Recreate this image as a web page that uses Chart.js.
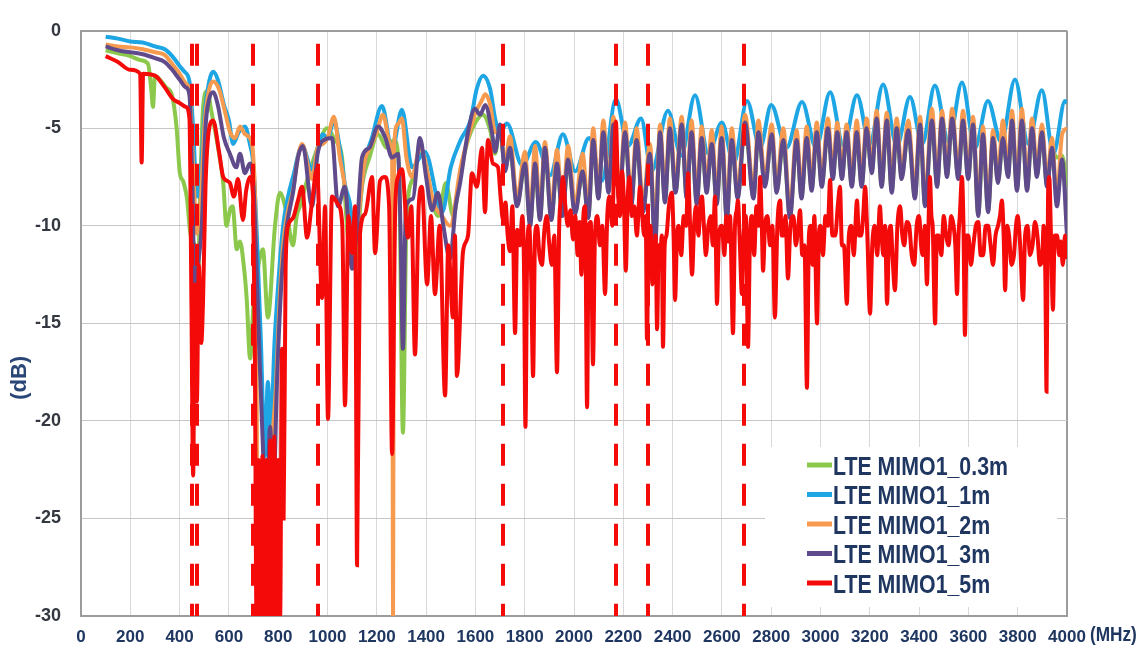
<!DOCTYPE html>
<html>
<head>
<meta charset="utf-8">
<script src="https://cdn.jsdelivr.net/npm/chart.js@4.4.1/dist/chart.umd.min.js"></script>
<style>
  html, body { margin: 0; padding: 0; background: #fff; }
</style>
</head>
<body>
<canvas id="chart" width="1143" height="650"></canvas>
<script>

var seriesNames = ["LTE MIMO1_0.3m", "LTE MIMO1_1m", "LTE MIMO1_2m", "LTE MIMO1_3m", "LTE MIMO1_5m"];
var seriesColors = ["#8CC84B", "#1EA6E4", "#F59A4E", "#5F4A8B", "#F50A0A"];

// band edges (MHz), red dashed markers
var bandEdges = [450, 470, 698, 960, 1710, 2170, 2300, 2690];

var xTicks = { min: 0, max: 4000, step: 200 };
var yTicks = { min: -30, max: 0, step: 5 };

// 0.3 m, below 1700 MHz
var greenLowMHz = [100, 150, 200, 240, 272, 285, 292, 300, 320, 345, 369, 388, 401, 414, 430, 445, 462, 472, 482, 495,
  511, 530, 560, 577, 590, 604, 615, 632, 645, 660, 672, 686, 700, 720, 738, 758, 787, 807, 835, 860,
  875, 888, 921, 957, 998, 1030, 1059, 1083, 1112, 1140, 1170, 1205, 1240, 1270, 1290, 1306, 1320, 1345, 1380, 1420,
  1450, 1480, 1510, 1540, 1570, 1600, 1630, 1660, 1680];
var greenLowDb = [-1.0, -1.15, -1.3, -1.5, -1.7, -3.0, -3.9, -2.3, -2.5, -2.9, -3.3, -5.0, -7.3, -7.7, -8.6, -10.5, -11.2, -14.5, -9.0, -4.0,
  -3.1, -4.2, -6.3, -7.8, -10.0, -9.2, -9.0, -11.2, -10.8, -12.0, -13.7, -16.8, -14.0, -12.0, -11.2, -14.7, -10.0, -8.3, -9.4, -11.0,
  -9.5, -9.0, -7.5, -6.1, -5.0, -5.6, -6.5, -10.6, -11.9, -8.0, -6.5, -5.3, -6.0, -5.6, -7.0, -20.6, -10.0, -7.6, -6.3, -8.6,
  -9.5, -7.8, -9.5, -7.2, -5.6, -4.7, -4.3, -5.1, -6.3];

// 1 m
var blueMHz = [100, 150, 200, 250, 300, 340, 370, 400, 420, 440, 455, 470, 482, 500, 520, 536, 555, 580, 600, 617,
  640, 665, 685, 700, 715, 730, 746, 758, 770, 785, 800, 820, 840, 860, 897, 937, 960, 982, 1000, 1026,
  1050, 1071, 1090, 1112, 1130, 1150, 1180, 1221, 1262, 1302, 1343, 1395, 1465, 1500, 1540, 1580, 1605, 1631, 1660, 1680,
  1700, 1728, 1790, 1845, 1903, 1955, 2005, 2061, 2113, 2170, 2219, 2272, 2315, 2381, 2435, 2491, 2545, 2600, 2648, 2702,
  2755, 2800, 2862, 2925, 2982, 3039, 3093, 3148, 3200, 3254, 3310, 3363, 3413, 3464, 3520, 3574, 3627, 3679, 3733, 3789,
  3843, 3898, 3945, 3992, 4000];
var blueDb = [-0.3, -0.4, -0.55, -0.6, -0.8, -0.95, -1.3, -1.8, -2.1, -2.6, -5.0, -8.5, -8.0, -4.5, -2.6, -2.1, -2.5, -3.8, -4.6, -5.8,
  -5.2, -4.9, -5.8, -7.0, -11.0, -16.0, -21.8, -18.0, -20.5, -16.0, -13.0, -10.0, -8.5, -7.5, -5.9, -7.1, -6.0, -5.3, -5.5, -4.65,
  -6.0, -7.9, -8.8, -10.8, -9.0, -6.8, -5.5, -3.85, -6.1, -4.05, -7.0, -6.2, -9.3, -7.0, -5.6, -4.6, -3.0, -2.3, -3.0, -4.5,
  -5.2, -4.75, -6.9, -5.7, -7.4, -5.3, -7.2, -5.5, -7.7, -3.5, -5.9, -4.5, -7.2, -4.1, -6.4, -3.3, -6.3, -4.7, -6.8, -3.6,
  -6.0, -3.8, -6.0, -3.65, -6.0, -3.15, -5.9, -3.3, -5.8, -2.75, -5.9, -3.4, -5.8, -2.8, -5.7, -2.65, -6.0, -3.6, -5.7, -2.5,
  -5.8, -3.05, -6.3, -3.6, -3.7];

// 2 m, below 1700 MHz
var orangeLowMHz = [100, 150, 200, 250, 300, 340, 370, 400, 425, 440, 455, 470, 485, 500, 520, 536, 560, 585, 605, 625,
  645, 665, 685, 700, 710, 718, 735, 745, 760, 775, 791, 805, 820, 840, 860, 880, 897, 937, 960, 982,
  1000, 1026, 1050, 1071, 1100, 1130, 1150, 1180, 1200, 1225, 1255, 1262, 1266, 1270, 1285, 1302, 1320, 1343, 1375, 1395,
  1430, 1465, 1497, 1540, 1570, 1600, 1625, 1640, 1660, 1680];
var orangeLowDb = [-0.7, -0.8, -0.85, -0.95, -1.1, -1.25, -1.7, -2.2, -2.7, -3.1, -7.0, -10.4, -9.0, -5.0, -3.0, -2.6, -3.0, -4.2, -5.2, -5.5,
  -4.9, -5.3, -5.5, -6.7, -12.0, -30, -30, -25.0, -23.0, -21.0, -18.2, -14.0, -11.0, -9.2, -8.2, -6.5, -5.8, -7.6, -6.0, -5.8,
  -5.5, -4.4, -6.5, -8.0, -11.2, -9.0, -6.8, -5.8, -5.2, -4.3, -5.8, -6.0, -30, -6.0, -4.8, -4.5, -6.5, -7.5, -6.0, -6.6,
  -8.8, -9.5, -10.0, -7.0, -5.5, -4.2, -3.6, -3.25, -3.8, -5.2];

// 3 m, below 1700 MHz
var purpleLowMHz = [100, 150, 200, 250, 300, 340, 370, 400, 425, 440, 452, 462, 475, 490, 505, 520, 536, 555, 580, 604,
  630, 645, 665, 685, 700, 712, 725, 740, 752, 767, 780, 795, 815, 835, 860, 880, 900, 937, 960, 985,
  1018, 1043, 1070, 1100, 1120, 1140, 1170, 1205, 1235, 1262, 1286, 1296, 1306, 1318, 1347, 1375, 1400, 1424, 1448, 1470,
  1497, 1520, 1538, 1570, 1598, 1619, 1640, 1667, 1680];
var purpleLowDb = [-0.8, -1.0, -1.1, -1.2, -1.4, -1.6, -2.0, -2.5, -2.9, -3.3, -8.0, -14.0, -12.0, -10.0, -5.0, -3.5, -3.15, -3.8, -5.5, -6.3,
  -7.0, -6.3, -7.3, -6.8, -8.0, -12.0, -17.0, -22.0, -25.0, -20.3, -24.0, -18.0, -12.5, -10.0, -8.3, -6.5, -5.9, -9.0, -6.3, -5.6,
  -5.5, -9.0, -8.0, -12.2, -10.0, -6.5, -6.0, -4.9, -5.5, -6.5, -6.3, -10.0, -16.3, -9.0, -8.6, -5.5, -7.5, -9.2, -8.3, -10.0,
  -11.7, -9.0, -7.8, -5.2, -4.0, -4.3, -3.8, -5.2, -6.2];

// ripple region 1700-4000 MHz, shared frequency grid for 0.3 m, 2 m, 3 m
var combMHz = [1700, 1720, 1740, 1769, 1801, 1822, 1842, 1862, 1882, 1908, 1931, 1953, 1976, 2004, 2035, 2058, 2078, 2099, 2119, 2140,
  2160, 2184, 2207, 2232, 2254, 2280, 2308, 2329, 2349, 2369, 2389, 2412, 2437, 2457, 2477, 2498, 2518, 2538, 2559, 2579,
  2599, 2620, 2640, 2664, 2694, 2728, 2748, 2775, 2802, 2822, 2849, 2876, 2903, 2923, 2944, 2964, 2985, 3005, 3030, 3050,
  3068, 3087, 3106, 3127, 3147, 3167, 3187, 3208, 3228, 3248, 3269, 3289, 3309, 3329, 3356, 3383, 3404, 3424, 3452, 3473,
  3493, 3513, 3534, 3559, 3578, 3599, 3619, 3640, 3659, 3680, 3700, 3720, 3740, 3761, 3777, 3797, 3817, 3838, 3858, 3878,
  3898, 3919, 3939, 3959, 3980, 4000];
var purpleCombDb = [-4.8, -7.2, -6.0, -9.0, -6.8, -10.0, -6.8, -9.7, -6.0, -9.7, -6.8, -9.5, -6.6, -9.4, -7.2, -9.6, -5.6, -8.6, -5.2, -8.3,
  -4.8, -8.7, -5.2, -9.0, -5.6, -9.3, -6.3, -11.0, -5.2, -8.8, -5.0, -8.3, -4.8, -8.6, -5.2, -8.9, -5.5, -8.3, -5.8, -8.9,
  -5.5, -9.7, -5.6, -8.6, -4.7, -8.6, -5.2, -8.0, -5.3, -8.3, -5.6, -9.6, -5.6, -8.6, -5.5, -8.2, -5.2, -8.0, -5.0, -7.6,
  -5.2, -7.6, -5.2, -8.0, -5.2, -8.0, -5.0, -7.3, -4.5, -8.0, -4.6, -8.3, -5.0, -7.6, -5.1, -8.6, -4.8, -9.0, -4.6, -8.0,
  -4.5, -7.5, -4.5, -7.6, -4.6, -7.6, -4.8, -9.5, -5.3, -9.3, -5.5, -7.8, -5.5, -7.5, -4.6, -8.2, -4.6, -8.2, -5.0, -7.5,
  -5.2, -8.0, -6.0, -9.0, -6.6, -10.5];
var orangeCombDb = [-5.2, -6.8, -5.4, -8.6, -6.2, -9.5, -5.9, -9.3, -5.7, -9.2, -6.1, -9.1, -5.9, -9.0, -6.3, -9.2, -5.0, -8.2, -4.6, -7.9,
  -4.4, -8.3, -4.7, -8.6, -5.0, -8.9, -5.8, -10.5, -4.8, -8.4, -4.5, -7.9, -4.4, -8.2, -4.6, -8.5, -4.9, -7.9, -5.1, -8.5,
  -4.9, -9.3, -5.0, -8.2, -4.3, -8.2, -4.6, -7.6, -4.8, -7.9, -5.0, -9.2, -5.1, -8.2, -4.9, -7.8, -4.7, -7.6, -4.5, -7.2,
  -4.7, -7.2, -4.8, -7.6, -4.6, -7.6, -4.5, -6.9, -4.1, -7.6, -4.2, -7.9, -4.5, -7.2, -4.6, -8.2, -4.4, -8.6, -4.0, -7.6,
  -4.1, -7.1, -4.0, -7.2, -4.1, -7.2, -4.4, -9.1, -4.9, -8.9, -5.1, -7.4, -4.6, -7.1, -4.1, -7.8, -4.0, -7.8, -4.5, -7.1,
  -4.8, -7.6, -5.5, -8.6, -5.3, -5.0];
var greenCombDb = [-4.9, -7.1, -6.1, -8.9, -6.9, -9.9, -6.9, -9.6, -6.1, -9.6, -6.9, -9.4, -6.7, -9.3, -7.3, -9.5, -5.7, -8.5, -5.3, -8.2,
  -4.9, -8.6, -5.3, -8.9, -5.7, -9.2, -6.4, -10.8, -5.3, -8.7, -5.1, -8.2, -4.9, -8.5, -5.3, -8.8, -5.6, -8.2, -5.9, -8.8,
  -5.6, -9.6, -5.7, -8.5, -4.8, -8.5, -5.3, -7.9, -5.4, -8.2, -5.7, -9.5, -5.7, -8.5, -5.6, -8.1, -5.3, -7.9, -5.1, -7.5,
  -5.3, -7.5, -5.3, -7.9, -5.3, -7.9, -5.1, -7.2, -4.6, -7.9, -4.7, -8.2, -5.1, -7.5, -5.2, -8.5, -4.9, -8.9, -4.7, -7.9,
  -4.6, -7.4, -4.6, -7.5, -4.7, -7.5, -4.9, -9.4, -5.4, -9.2, -5.6, -7.7, -5.6, -7.4, -4.7, -8.1, -4.7, -8.1, -5.1, -7.4,
  -5.3, -7.9, -6.1, -6.5, -6.4, -8.0];

// 5 m
var redMHz = [100, 150, 200, 240, 246, 252, 300, 340, 374, 400, 425, 440, 448, 455, 462, 470, 478, 488, 495, 505,
  520, 536, 560, 577, 604, 620, 637, 657, 670, 686, 698, 705, 712, 720, 728, 736, 744, 752, 760, 768,
  776, 784, 792, 800, 808, 815, 822, 830, 840, 860, 880, 897, 917, 937, 957, 978, 990, 1002, 1018, 1043,
  1060, 1071, 1085, 1100, 1112, 1120, 1132, 1152, 1181, 1193, 1213, 1233, 1250, 1262, 1275, 1286, 1302, 1327, 1340, 1355,
  1370, 1383, 1404, 1420, 1436, 1455, 1477, 1490, 1509, 1517, 1525, 1550, 1570, 1586, 1606, 1627, 1639, 1651, 1671, 1692,
  1702, 1712, 1722, 1731, 1740, 1750, 1761, 1770, 1781, 1790, 1797, 1803, 1810, 1818, 1826, 1834, 1842, 1850, 1860, 1870,
  1880, 1890, 1900, 1910, 1920, 1931, 1940, 1948, 1955, 1965, 1975, 1986, 1996, 2005, 2015, 2023, 2030, 2038, 2045, 2053,
  2060, 2068, 2077, 2085, 2095, 2105, 2115, 2126, 2135, 2145, 2155, 2162, 2170, 2178, 2186, 2195, 2203, 2210, 2218, 2225,
  2235, 2245, 2255, 2268, 2277, 2285, 2291, 2296, 2303, 2310, 2318, 2325, 2331, 2337, 2344, 2350, 2356, 2361, 2368, 2375,
  2385, 2397, 2404, 2410, 2418, 2425, 2435, 2445, 2455, 2463, 2471, 2479, 2487, 2495, 2505, 2512, 2519, 2527, 2535, 2545,
  2555, 2563, 2572, 2580, 2588, 2600, 2610, 2618, 2625, 2633, 2645, 2653, 2660, 2665, 2673, 2681, 2688, 2697, 2706, 2714,
  2722, 2731, 2740, 2748, 2755, 2761, 2767, 2775, 2785, 2795, 2805, 2815, 2825, 2836, 2843, 2850, 2858, 2868, 2878, 2890,
  2900, 2910, 2917, 2926, 2935, 2945, 2953, 2960, 2968, 2975, 2986, 2993, 3000, 3010, 3020, 3030, 3039, 3048, 3060, 3070,
  3079, 3087, 3095, 3107, 3115, 3125, 3135, 3148, 3156, 3165, 3173, 3181, 3190, 3201, 3210, 3220, 3230, 3241, 3248, 3255,
  3262, 3270, 3278, 3285, 3292, 3302, 3312, 3323, 3332, 3340, 3350, 3360, 3370, 3380, 3390, 3400, 3408, 3415, 3423, 3432,
  3438, 3444, 3450, 3455, 3465, 3472, 3480, 3490, 3500, 3510, 3520, 3530, 3540, 3547, 3554, 3560, 3565, 3574, 3580, 3586,
  3593, 3600, 3610, 3620, 3630, 3640, 3650, 3660, 3670, 3680, 3690, 3700, 3710, 3720, 3728, 3736, 3743, 3749, 3757, 3765,
  3775, 3785, 3793, 3800, 3810, 3822, 3830, 3840, 3850, 3860, 3870, 3880, 3890, 3900, 3905, 3912, 3917, 3923, 3928, 3935,
  3943, 3950, 3960, 3968, 3975, 3983, 3992, 4000];
var redDb = [-1.3, -1.6, -2.0, -2.2, -6.75, -2.2, -2.3, -2.9, -3.5, -3.7, -3.9, -4.5, -14.0, -22.8, -13.0, -19.0, -12.0, -16.0, -13.9, -8.0,
  -5.0, -4.6, -6.2, -7.5, -7.8, -8.5, -7.6, -9.7, -8.2, -7.5, -8.5, -16.0, -30, -22.0, -30, -21.8, -30, -22.0, -30, -21.0,
  -30, -20.8, -30, -22.0, -30, -16.3, -25.0, -12.2, -10.0, -9.6, -8.7, -8.0, -10.6, -8.8, -7.1, -13.7, -9.0, -19.9, -8.5, -8.9,
  -10.0, -19.2, -9.5, -11.4, -9.0, -27.4, -10.4, -9.4, -7.5, -11.4, -7.7, -7.5, -9.0, -21.7, -9.0, -7.5, -7.1, -10.6, -9.0, -16.6,
  -9.0, -8.0, -13.0, -9.5, -13.5, -10.0, -18.7, -11.0, -14.7, -10.5, -17.7, -11.3, -10.5, -7.3, -8.0, -6.0, -9.3, -5.6, -6.8, -7.0,
  -8.5, -9.7, -8.8, -10.5, -11.3, -9.0, -15.5, -10.2, -11.0, -9.5, -12.0, -20.3, -11.5, -10.0, -12.5, -17.7, -10.5, -10.0, -11.5, -12.0,
  -10.2, -9.5, -11.0, -12.0, -10.5, -17.5, -10.0, -8.5, -7.5, -9.0, -10.0, -9.2, -10.7, -9.5, -11.5, -9.8, -12.5, -9.5, -9.0, -19.3,
  -10.0, -9.8, -17.1, -10.5, -9.5, -11.0, -10.0, -13.5, -9.5, -8.5, -10.0, -7.2, -4.65, -8.0, -9.5, -7.2, -9.0, -12.3, -8.5, -7.5,
  -9.5, -9.0, -10.5, -8.0, -9.5, -10.5, -9.5, -15.8, -10.5, -10.0, -13.0, -12.0, -10.5, -15.3, -11.0, -11.5, -10.5, -16.2, -11.0, -10.5,
  -9.0, -8.3, -10.5, -13.8, -10.5, -10.0, -11.5, -9.5, -10.0, -7.3, -10.0, -12.5, -10.0, -9.0, -10.5, -9.0, -8.5, -10.0, -11.5, -10.0,
  -9.5, -11.0, -8.5, -14.0, -10.5, -10.0, -11.5, -9.5, -10.8, -9.5, -15.5, -10.0, -9.2, -8.7, -11.0, -13.5, -10.5, -9.5, -16.2, -10.5,
  -9.5, -11.5, -9.0, -10.0, -7.5, -9.5, -12.3, -10.0, -9.5, -11.0, -10.0, -14.7, -10.0, -8.7, -10.5, -10.5, -9.5, -12.7, -10.0, -9.5,
  -11.0, -10.0, -9.2, -11.5, -11.0, -18.3, -10.5, -10.0, -12.0, -9.5, -15.0, -10.5, -10.0, -11.5, -9.5, -10.0, -7.65, -10.5, -10.5, -9.0,
  -8.0, -11.0, -11.0, -14.0, -10.5, -10.0, -11.5, -8.7, -10.5, -10.5, -9.5, -8.0, -10.5, -14.5, -11.0, -10.0, -11.5, -9.0, -10.5, -11.5,
  -10.0, -14.0, -10.5, -10.0, -11.5, -13.3, -10.0, -9.0, -10.5, -11.0, -9.8, -10.0, -11.5, -12.0, -10.0, -9.5, -11.0, -11.5, -10.0, -13.0,
  -10.0, -7.5, -9.5, -10.0, -15.0, -10.5, -10.5, -11.5, -9.5, -10.5, -11.0, -9.5, -10.0, -11.0, -13.5, -10.5, -9.5, -7.5, -10.0, -15.6,
  -10.5, -10.5, -12.0, -11.0, -10.0, -9.8, -11.5, -11.5, -10.0, -10.0, -11.0, -12.0, -10.5, -10.0, -9.5, -8.7, -10.5, -13.3, -10.0, -10.5,
  -12.0, -11.5, -10.0, -9.5, -11.0, -13.8, -10.5, -10.0, -11.5, -11.0, -9.8, -10.5, -12.0, -11.5, -10.0, -12.5, -18.5, -8.5, -7.5, -10.5,
  -14.3, -10.5, -10.5, -11.5, -10.8, -12.0, -10.5, -11.7];

function toPoints(xs, ys) {
  return xs.map(function (f, i) { return { x: f, y: ys[i] }; });
}

var FONT = '"Liberation Sans", Arial, sans-serif';
var NAVY = "#1F3760";
var EDGE = "#9c9c9c";

var greenData = toPoints(greenLowMHz.concat(combMHz), greenLowDb.concat(greenCombDb));
var blueData = toPoints(blueMHz, blueDb);
var orangeData = toPoints(orangeLowMHz.concat(combMHz), orangeLowDb.concat(orangeCombDb));
var purpleData = toPoints(purpleLowMHz.concat(combMHz), purpleLowDb.concat(purpleCombDb));
var redData = toPoints(redMHz, redDb);

function lineSet(i, data, order) {
  return {
    label: seriesNames[i],
    data: data,
    borderColor: seriesColors[i],
    backgroundColor: seriesColors[i],
    borderWidth: 4,
    pointRadius: 0,
    fill: false,
    cubicInterpolationMode: "monotone",
    order: order
  };
}

// narrow-looking text: squeeze horizontally
function narrowText(ctx, text, x, y, squeeze) {
  ctx.save();
  ctx.translate(x, y);
  ctx.scale(squeeze, 1);
  ctx.fillText(text, 0, 0);
  ctx.restore();
}

// dashed band edge markers, legend box, axis unit labels
var decorations = {
  id: "decorations",
  afterDatasetsDraw: function (chart) {
    var ctx = chart.ctx;
    var area = chart.chartArea;
    var x = chart.scales.x;

    ctx.save();
    ctx.strokeStyle = "#F50A0A";
    ctx.lineWidth = 4;
    ctx.setLineDash([22, 18]);
    bandEdges.forEach(function (f) {
      var px = Math.round(x.getPixelForValue(f));
      ctx.beginPath();
      ctx.moveTo(px, area.top + 13);
      ctx.lineTo(px, area.bottom);
      ctx.stroke();
    });
    ctx.restore();

    // legend
    var bx = area.right - 302, by = area.bottom - 169;
    ctx.save();
    ctx.fillStyle = "#fff";
    ctx.fillRect(bx, by, 292, 160);
    ctx.font = "bold 26px " + FONT;
    ctx.textAlign = "left";
    ctx.textBaseline = "alphabetic";
    seriesNames.forEach(function (name, i) {
      var cy = by + 18 + i * 29.5;
      ctx.strokeStyle = seriesColors[i];
      ctx.lineWidth = 5;
      ctx.beginPath();
      ctx.moveTo(bx + 42, cy);
      ctx.lineTo(bx + 67, cy);
      ctx.stroke();
      ctx.fillStyle = NAVY;
      narrowText(ctx, name, bx + 68, cy + 9.5, 0.82);
    });
    ctx.restore();
  },
  afterDraw: function (chart) {
    var ctx = chart.ctx;
    var area = chart.chartArea;
    ctx.save();
    ctx.fillStyle = NAVY;
    ctx.font = "bold 21px " + FONT;
    ctx.textAlign = "left";
    ctx.textBaseline = "middle";
    narrowText(ctx, "(MHz)", area.right + 23, area.bottom + 19, 0.82);
    ctx.translate(area.left - 61, area.top + 347);
    ctx.rotate(-Math.PI / 2);
    ctx.textAlign = "center";
    ctx.font = "bold 22px " + FONT;
    ctx.fillStyle = "#2A4676";
    ctx.fillText("(dB)", 0, 0);
    ctx.restore();
  }
};

new Chart("chart", {
  type: "line",
  data: {
    datasets: [
      lineSet(0, greenData, 5),
      lineSet(1, blueData, 4),
      lineSet(2, orangeData, 3),
      lineSet(3, purpleData, 2),
      lineSet(4, redData, 1)
    ]
  },
  options: {
    responsive: false,
    animation: false,
    layout: { padding: { left: 0, right: 76, top: 17, bottom: 0 } },
    plugins: {
      legend: { display: false },
      tooltip: { enabled: false }
    },
    scales: {
      x: {
        type: "linear",
        min: xTicks.min,
        max: xTicks.max,
        ticks: {
          stepSize: xTicks.step,
          autoSkip: false,
          maxRotation: 0,
          padding: 11,
          color: NAVY,
          font: { family: FONT, size: 17, weight: "bold" },
          callback: function (v) { return String(v); }
        },
        grid: {
          drawTicks: false,
          color: function (c) { return c.tick && c.tick.value === xTicks.max ? EDGE : "#d9d9d9"; },
          lineWidth: function (c) { return c.tick && c.tick.value === xTicks.max ? 2 : 1; }
        },
        border: { color: EDGE, width: 2 },
        afterFit: function (s) { s.height = 34; }
      },
      y: {
        min: yTicks.min,
        max: yTicks.max,
        ticks: {
          stepSize: yTicks.step,
          padding: 20,
          color: "#333840",
          font: { family: FONT, size: 18, weight: "bold" },
          callback: function (v) { return String(v); }
        },
        grid: {
          drawTicks: false,
          color: function (c) { return c.tick && c.tick.value === yTicks.max ? EDGE : "#c6c6c6"; },
          lineWidth: function (c) { return c.tick && c.tick.value === yTicks.max ? 2 : 1; }
        },
        border: { color: EDGE, width: 2 },
        afterFit: function (s) { s.width = 81; }
      }
    }
  },
  plugins: [decorations]
});
</script>
</body>
</html>
